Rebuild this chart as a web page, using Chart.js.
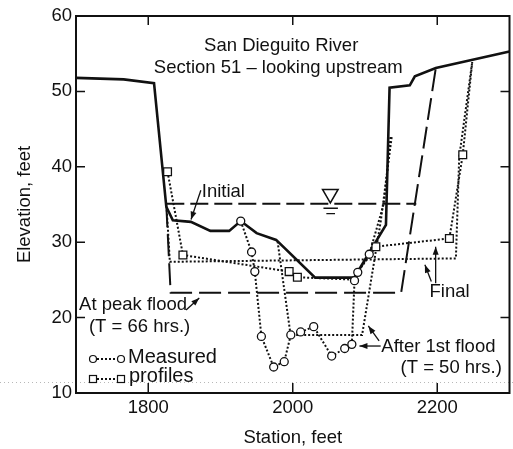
<!DOCTYPE html>
<html>
<head>
<meta charset="utf-8">
<script src="https://cdn.jsdelivr.net/npm/chart.js@4.4.1/dist/chart.umd.min.js"></script>
<style>
  html, body { margin: 0; padding: 0; background: #fff; overflow: hidden; }
  canvas { display: block; }
</style>
</head>
<body>
<canvas id="chart" width="520" height="449"></canvas>
<script>
// axis ticks
const stationTicks = [1800, 2000, 2200];
const elevationTicks = [10, 20, 30, 40, 50, 60];

// initial ground (solid line)
const initialProfile = [[1700, 51.8], [1766, 51.6], [1808, 51.1], [1825, 34.7], [1834, 32.9], [1859, 32.7],
  [1886, 31.5], [1912, 31.5], [1928, 32.8], [1950, 31.2], [1977, 30.3], [2031, 25.3], [2085, 25.3],
  [2129, 32.3], [2134, 50.5], [2162, 50.8], [2169, 52.0], [2198, 53.1], [2300, 55.3]];

// water surface and its symbol
const waterSurface = [[1825, 35.1], [2171, 35.1]];
const waterSymbol = [[2052, 36.4]];
const waterMark1 = [[2042.5, 34.5], [2062.5, 34.5]];
const waterMark2 = [[2046.5, 33.8], [2058.5, 33.8]];

// at peak flood (long dashes)
const peakFlood = [[1825, 34.9], [1831, 23.3], [2150, 23.3], [2198, 53.1]];

// after 1st flood
const firstFloodComputed = [[1979, 30.1], [1997, 17.7], [2096, 17.7], [2122, 32.9], [2137, 44.0]];
const firstFloodMeasured = [[1928, 32.8], [1943, 28.7], [1947.5, 26.1], [1956.6, 17.5], [1973.6, 13.45],
  [1988.2, 14.15], [1997.3, 17.7], [2010.9, 18.1], [2029, 18.8], [2053.9, 14.9], [2071.9, 15.9],
  [2081.8, 16.45], [2085.5, 24.9], [2090, 26.0], [2105.9, 28.4], [2126.3, 35.2], [2135.4, 44.0]];
const firstFloodMarked = [1, 1, 1, 1, 1, 1, 1, 1, 1, 1, 1, 1, 1, 1, 1, 0, 0];

// final
const finalComputed = [[1825.6, 34.3], [1829.9, 27.4], [2225.8, 27.85], [2230.4, 41.3], [2248.4, 53.9]];
const finalMeasured = [[1826.7, 39.35], [1848, 28.3], [1995, 26.1], [2006.4, 25.35], [2082.8, 25.05],
  [2115, 29.4], [2216.8, 30.5], [2235.3, 41.6], [2248.4, 53.9]];
const finalMarked = [1, 1, 1, 1, 0, 1, 1, 1, 0];

const ink = '#111';
const toXY = arr => arr.map(p => ({x: p[0], y: p[1]}));

// labels and arrows in data units
const notes = [
  {text: 'San Dieguito River', x: 1984, y: 56.0},
  {text: 'Section 51 \u2013 looking upstream', x: 1980, y: 53.1},
  {text: 'Initial', x: 1904, y: 36.65},
  {text: 'At peak flood', x: 1779, y: 21.65},
  {text: '(T = 66 hrs.)', x: 1788, y: 18.7},
  {text: 'Final', x: 2217, y: 23.4},
  {text: 'After 1st flood', x: 2201.6, y: 16.1},
  {text: '(T = 50 hrs.)', x: 2219.3, y: 13.3}
];
const arrows = [
  [1872.8, 36.9, 1859.2, 33.0],
  [1852.4, 21.0, 1870.6, 22.6],
  [2197.8, 24.55, 2197.8, 29.4],
  [2191.8, 24.8, 2182.9, 27.0],
  [2121.7, 16.23, 2092.3, 16.23],
  [2119.5, 16.9, 2104.6, 18.9]
];

const decor = {
  id: 'decor',
  beforeDatasetsDraw(chart) {
    const {ctx, width, scales: {y}} = chart;
    // faint scan line
    ctx.save();
    ctx.strokeStyle = '#b8b8b8';
    ctx.lineWidth = 1;
    ctx.setLineDash([1, 3]);
    const yy = Math.round(y.getPixelForValue(11.46)) + 0.5;
    ctx.beginPath(); ctx.moveTo(0, yy); ctx.lineTo(width, yy); ctx.stroke();
    ctx.restore();
  },
  afterDraw(chart) {
    const {ctx, chartArea: a, scales: {x, y}} = chart;
    const px = v => x.getPixelForValue(v), py = v => y.getPixelForValue(v);
    ctx.save();
    ctx.strokeStyle = ink;
    ctx.fillStyle = ink;
    ctx.lineWidth = 2;
    ctx.strokeRect(a.left, a.top, a.right - a.left, a.bottom - a.top);

    // inward tick marks
    ctx.lineWidth = 1.5;
    ctx.beginPath();
    stationTicks.forEach(v => {
      ctx.moveTo(px(v), a.top); ctx.lineTo(px(v), a.top + 9);
      ctx.moveTo(px(v), a.bottom); ctx.lineTo(px(v), a.bottom - 10);
    });
    elevationTicks.forEach(v => {
      ctx.moveTo(a.left, py(v)); ctx.lineTo(a.left + 9, py(v));
      ctx.moveTo(a.right, py(v)); ctx.lineTo(a.right - 9, py(v));
    });
    ctx.stroke();

    // text notes
    ctx.font = '18.5px "Liberation Sans", Arial, sans-serif';
    ctx.textAlign = 'center';
    ctx.textBaseline = 'middle';
    notes.forEach(n => ctx.fillText(n.text, px(n.x), py(n.y)));

    // arrows
    ctx.lineWidth = 1.3;
    arrows.forEach(r => {
      const x1 = px(r[0]), y1 = py(r[1]), x2 = px(r[2]), y2 = py(r[3]);
      const ang = Math.atan2(y2 - y1, x2 - x1);
      ctx.beginPath(); ctx.moveTo(x1, y1); ctx.lineTo(x2, y2); ctx.stroke();
      ctx.beginPath();
      ctx.moveTo(x2, y2);
      ctx.lineTo(x2 - 8 * Math.cos(ang) + 3 * Math.sin(ang), y2 - 8 * Math.sin(ang) - 3 * Math.cos(ang));
      ctx.lineTo(x2 - 8 * Math.cos(ang) - 3 * Math.sin(ang), y2 - 8 * Math.sin(ang) + 3 * Math.cos(ang));
      ctx.closePath(); ctx.fill();
    });

    // legend
    const lx1 = a.left + 17, lx2 = a.left + 45;
    const ly1 = a.bottom - 34, ly2 = a.bottom - 14;
    ctx.lineWidth = 2;
    ctx.setLineDash([2, 2]);
    ctx.beginPath();
    ctx.moveTo(lx1, ly1); ctx.lineTo(lx2, ly1);
    ctx.moveTo(lx1, ly2); ctx.lineTo(lx2, ly2);
    ctx.stroke();
    ctx.setLineDash([]);
    ctx.fillStyle = '#fff';
    ctx.lineWidth = 1.2;
    [lx1, lx2].forEach(cx => {
      ctx.beginPath(); ctx.arc(cx, ly1, 3.5, 0, Math.PI * 2); ctx.fill(); ctx.stroke();
      ctx.fillRect(cx - 3.5, ly2 - 3.5, 7, 7); ctx.strokeRect(cx - 3.5, ly2 - 3.5, 7, 7);
    });
    ctx.fillStyle = ink;
    ctx.font = '20px "Liberation Sans", Arial, sans-serif';
    ctx.textAlign = 'left';
    ctx.fillText('Measured', a.left + 52, ly1 - 2);
    ctx.fillText('profiles', a.left + 53, ly2 - 3);
    ctx.restore();
  }
};

const dotted = {borderColor: ink, borderWidth: 2, borderDash: [2, 2], pointRadius: 0, fill: false, tension: 0};
const fontFamily = '"Liberation Sans", Arial, sans-serif';

new Chart(document.getElementById('chart'), {
  type: 'line',
  data: {
    datasets: [
      {
        data: toXY(waterSymbol), showLine: false, pointStyle: 'triangle', rotation: 180,
        pointRadius: 9, pointBackgroundColor: '#fff', pointBorderColor: ink, pointBorderWidth: 1.5
      },
      {data: toXY(firstFloodMeasured), ...dotted, pointStyle: 'circle',
        pointRadius: firstFloodMarked.map(m => m ? 4 : 0),
        pointBackgroundColor: '#fff', pointBorderColor: ink, pointBorderWidth: 1.3},
      {data: toXY(finalMeasured), ...dotted, pointStyle: 'rect',
        pointRadius: finalMarked.map(m => m ? 5.5 : 0),
        pointBackgroundColor: '#fff', pointBorderColor: ink, pointBorderWidth: 1.3},
      {data: toXY(initialProfile), borderColor: ink, borderWidth: 2.6, pointRadius: 0, fill: false},
      {data: toXY(firstFloodComputed), ...dotted},
      {data: toXY(finalComputed), ...dotted},
      {data: toXY(peakFlood), borderColor: ink, borderWidth: 2, borderDash: [22, 7], pointRadius: 0, fill: false},
      {data: toXY(waterSurface), borderColor: ink, borderWidth: 2, borderDash: [18, 6], pointRadius: 0, fill: false},
      {data: toXY(waterMark1), borderColor: ink, borderWidth: 1.3, pointRadius: 0, fill: false},
      {data: toXY(waterMark2), borderColor: ink, borderWidth: 1.3, pointRadius: 0, fill: false}
    ]
  },
  options: {
    responsive: false,
    animation: false,
    layout: {padding: {top: 16, right: 2, left: 0, bottom: 0}},
    plugins: {legend: {display: false}, tooltip: {enabled: false}},
    scales: {
      x: {
        type: 'linear', min: 1700, max: 2300,
        grid: {display: false, drawTicks: false}, border: {display: false},
        afterBuildTicks: s => { s.ticks = stationTicks.map(v => ({value: v})); },
        afterFit: s => { s.height = 56; },
        ticks: {padding: 4, color: ink, font: {size: 18.5, family: fontFamily}, callback: v => String(v)},
        title: {display: true, text: 'Station, feet', color: ink, padding: {top: 0, bottom: 0},
          font: {size: 18.5, family: fontFamily}}
      },
      y: {
        type: 'linear', min: 10, max: 60,
        grid: {display: false, drawTicks: false}, border: {display: false},
        afterBuildTicks: s => { s.ticks = elevationTicks.map(v => ({value: v})); },
        afterFit: s => { s.width = 76; },
        ticks: {padding: 4, color: ink, font: {size: 18.5, family: fontFamily}, callback: v => String(v)},
        title: {display: true, text: 'Elevation, feet', color: ink, padding: {top: 14, bottom: 0},
          font: {size: 18.5, family: fontFamily}}
      }
    }
  },
  plugins: [decor]
});
</script>
</body>
</html>
